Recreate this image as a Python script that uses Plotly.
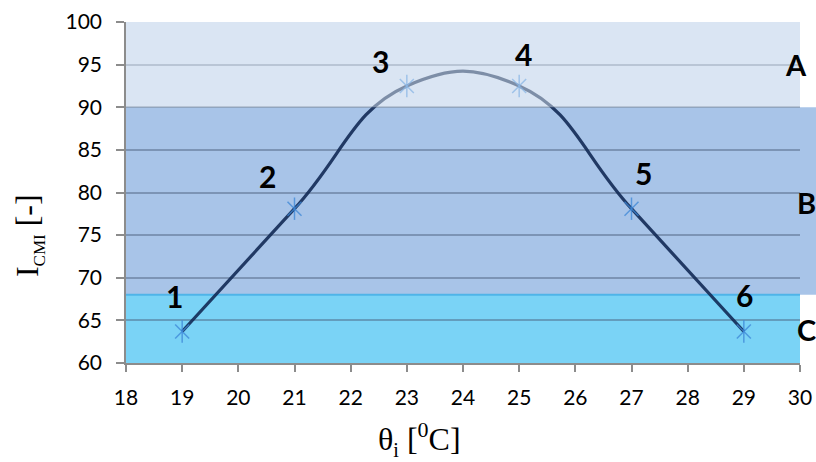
import plotly.graph_objects as go

# Data
theta = [19, 21, 23, 25, 27, 29]
icmi = [63.7, 78.1, 92.5, 92.5, 78.1, 63.7]
point_labels = ["1", "2", "3", "4", "5", "6"]
zones = ["A", "B", "C"]
zone_bounds = [(90, 100), (68, 90), (60, 68)]
zone_label_y = [95.0, 78.8, 63.9]
x_ticks = list(range(18, 31))
y_ticks = list(range(60, 101, 5))
x_title = "θ<sub><span style='font-size:20px'>i</span></sub> [<sup><span style='font-size:22px'>0</span></sup>C]"
y_title = "I<sub><span style='font-size:17px'>CMI</span></sub> [-]"

# label offsets (pixels) relative to each point
label_dx = [-8, -27, -26, 4, 12, 1]
label_dy = [-35, -33, -25, -32, -36, -36]

MARK = "rgba(60,135,215,0.75)"

fig = go.Figure()

fig.add_trace(go.Scatter(
    x=theta, y=icmi, mode="lines",
    line=dict(color="rgba(18,42,85,0.9)", width=3.2, shape="spline", smoothing=1.3),
    hoverinfo="skip", showlegend=False))
fig.add_trace(go.Scatter(
    x=theta, y=icmi, mode="markers",
    marker=dict(symbol="x-thin-open", size=14, color=MARK, line=dict(color=MARK, width=1.5)),
    showlegend=False))
fig.add_trace(go.Scatter(
    x=theta, y=icmi, mode="markers",
    marker=dict(symbol="line-ns-open", size=16, color=MARK, line=dict(color=MARK, width=1.5)),
    showlegend=False))

# band fills
band_colors = ["#cddbee", "#a8c4e8", "#7ad3f6"]
for (y0, y1), col, z in zip(zone_bounds, band_colors, zones):
    x1 = 1.03 if z == "B" else 1.0
    fig.add_shape(type="rect", xref="paper", yref="y", x0=-0.003, x1=x1, y0=y0, y1=y1,
                  fillcolor=col, line=dict(width=0), layer="below")
# overlay on band A to lighten things inside
fig.add_shape(type="rect", xref="paper", yref="y", x0=0, x1=1, y0=zone_bounds[0][0], y1=zone_bounds[0][1],
              fillcolor="rgba(236,241,249,0.45)", line=dict(width=0), layer="above")
# border line at top of band C
fig.add_shape(type="line", xref="paper", yref="y", x0=-0.003, x1=1, y0=zone_bounds[2][1], y1=zone_bounds[2][1],
              line=dict(color="#4fb4e8", width=2), layer="below")

for x, y, t, dx, dy in zip(theta, icmi, point_labels, label_dx, label_dy):
    fig.add_annotation(x=x, y=y, text="<b>%s</b>" % t, showarrow=False,
                       xshift=dx, yshift=-dy, font=dict(family="Lato", size=30, color="black"))

for z, yv in zip(zones, zone_label_y):
    fig.add_annotation(x=1.0, xref="paper", y=yv, yref="y", text="<b>%s</b>" % z, showarrow=False,
                       xanchor="center", xshift=(-4 if z == "A" else 6), font=dict(family="Lato", size=29, color="black"))

# axis titles
fig.add_annotation(x=0.436, xref="paper", y=-0.222, yref="paper", text=x_title, showarrow=False,
                   xanchor="center", yanchor="middle", font=dict(family="Liberation Serif", size=32, color="black"))
fig.add_annotation(x=-0.144, xref="paper", y=0.375, yref="paper", text=y_title, showarrow=False,
                   textangle=-90, xanchor="center", yanchor="middle",
                   font=dict(family="Liberation Serif", size=32, color="black"))

fig.update_layout(
    width=816, height=462,
    margin=dict(l=126, r=16, t=22, b=99, autoexpand=False),
    paper_bgcolor="white", plot_bgcolor="rgba(0,0,0,0)",
    font=dict(family="Lato", size=21, color="black"),
    showlegend=False,
)
fig.update_xaxes(
    range=[18, 30], tickvals=x_ticks, ticktext=[str(v) for v in x_ticks],
    showgrid=False, zeroline=False, automargin=False,
    showline=True, linecolor="#8c8c8c", linewidth=1.5,
    ticks="outside", ticklen=7, tickcolor="#8c8c8c", tickwidth=1.5,
    tickfont=dict(family="Lato", size=21), ticklabelstandoff=8,
)
fig.update_yaxes(
    range=[60, 100], tickvals=y_ticks, ticktext=[str(v) for v in y_ticks],
    showgrid=True, gridcolor="rgba(70,90,120,0.45)", gridwidth=1.5, zeroline=False, automargin=False,
    showline=True, linecolor="#8c8c8c", linewidth=1.5,
    ticks="outside", ticklen=8, tickcolor="#8c8c8c", tickwidth=1.5,
    tickfont=dict(family="Lato", size=21), ticklabelstandoff=10,
)

fig.write_html("out.html")
